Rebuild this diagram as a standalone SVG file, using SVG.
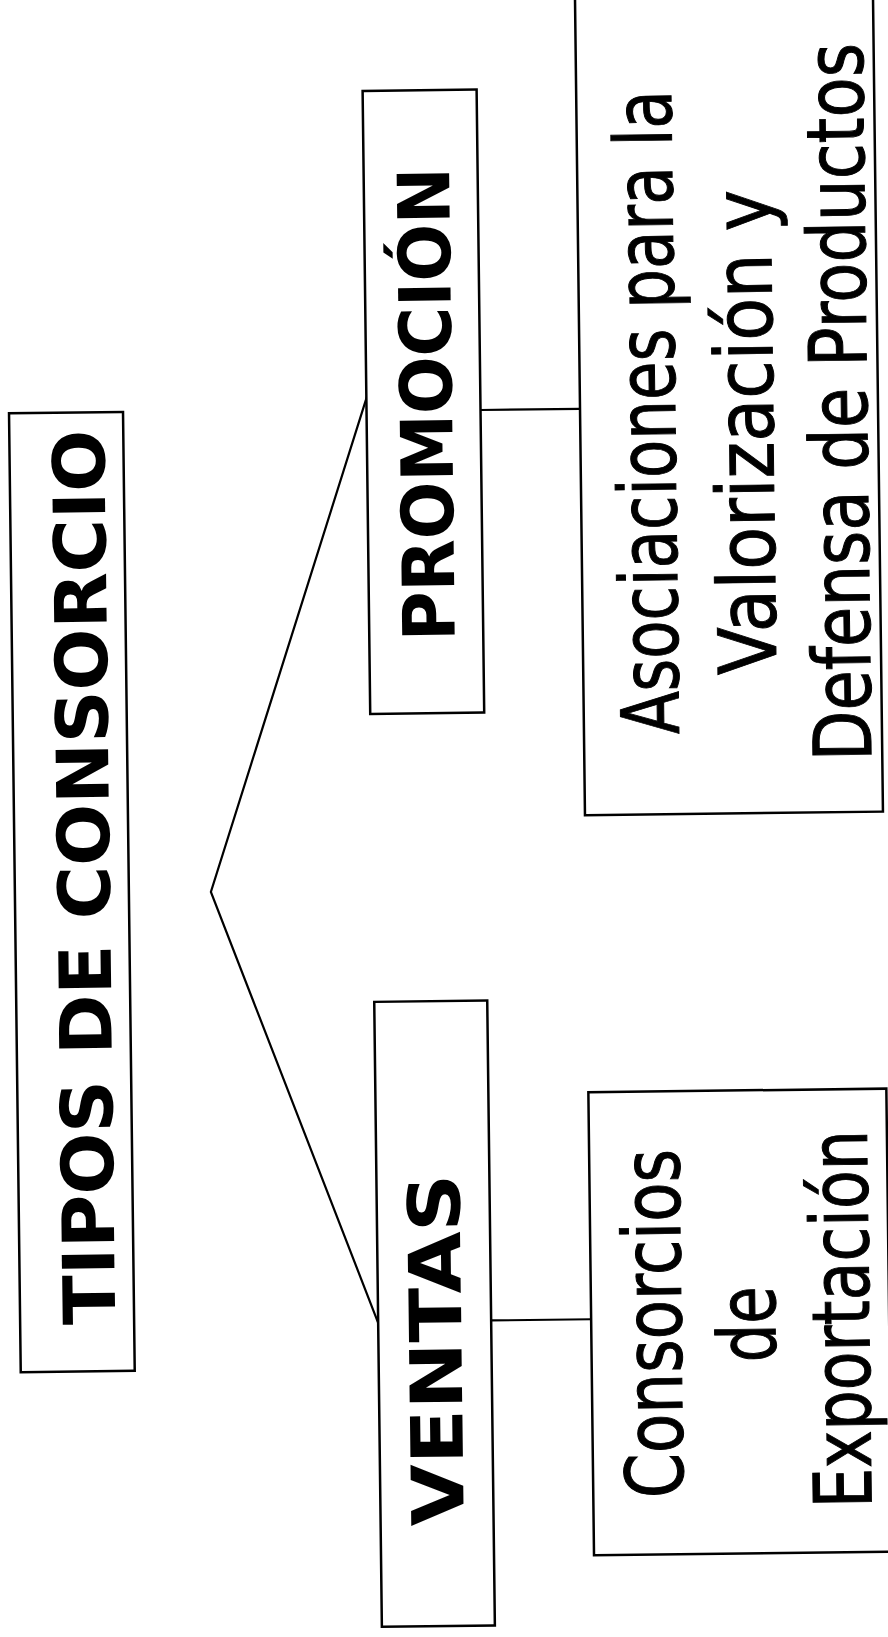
<svg xmlns="http://www.w3.org/2000/svg" width="888" height="1637" viewBox="0 0 888 1637">
<style>
.box{fill:#fff;stroke:#000;stroke-width:2.5}
.conn{fill:none;stroke:#000;stroke-width:2.2}
.tb{font-family:"DejaVu Sans","Verdana",sans-serif;font-weight:bold;fill:#000;text-anchor:middle;font-size:72px}
.tr{font-family:"DejaVu Sans","Verdana",sans-serif;fill:#000;stroke:#000;stroke-width:1;text-anchor:middle;font-size:80px}
</style>
<rect width="888" height="1637" fill="#fff"/>
<g transform="rotate(-0.7 444 818)">
<g id="connectors">
<polyline class="conn" points="372,396 210,889 372,1322"/>
<line class="conn" x1="485.6" y1="410.5" x2="585" y2="410.5"/>
<line class="conn" x1="485" y1="1321" x2="585" y2="1321"/>
</g>
<g id="tipos">
<rect class="box" x="14" y="408" width="114" height="959"/>
<text class="tb" transform="translate(109,873) rotate(-90)" textLength="895" lengthAdjust="spacingAndGlyphs">TIPOS DE CONSORCIO</text>
</g>
<g id="promocion">
<rect class="box" x="371.5" y="90" width="114" height="623"/>
<text class="tb" transform="translate(457,404) rotate(-90)" textLength="474" lengthAdjust="spacingAndGlyphs">PROMOCIÓN</text>
</g>
<g id="ventas">
<rect class="box" x="372" y="1001" width="113" height="625"/>
<text class="tb" transform="translate(455,1350) rotate(-90)" textLength="352" lengthAdjust="spacingAndGlyphs">VENTAS</text>
</g>
<g id="asociaciones">
<rect class="box" x="585" y="-20" width="298" height="837"/>
<text class="tr" transform="translate(680,415) rotate(-90)" textLength="644" lengthAdjust="spacingAndGlyphs">Asociaciones para la</text>
<text class="tr" transform="translate(778,436) rotate(-90)" textLength="485" lengthAdjust="spacingAndGlyphs">Valorización y</text>
<text class="tr" transform="translate(872,407) rotate(-90)" textLength="718" lengthAdjust="spacingAndGlyphs">Defensa de Productos</text>
</g>
<g id="consorcios">
<rect class="box" x="585" y="1094" width="298" height="463"/>
<text class="tr" transform="translate(675,1326) rotate(-90)" textLength="349" lengthAdjust="spacingAndGlyphs">Consorcios</text>
<text class="tr" transform="translate(769,1328) rotate(-90)" textLength="76" lengthAdjust="spacingAndGlyphs">de</text>
<text class="tr" transform="translate(863,1324) rotate(-90)" textLength="378" lengthAdjust="spacingAndGlyphs">Exportación</text>
</g>
</g>
</svg>
